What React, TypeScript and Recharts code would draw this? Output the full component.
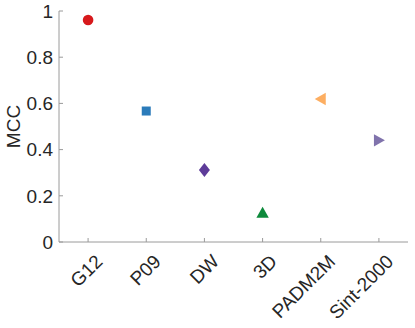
import * as React from "react";
import { ScatterChart, Scatter, XAxis, YAxis } from "recharts";

const models = ["G12", "P09", "DW", "3D", "PADM2M", "Sint-2000"];
const mccValues = [0.961, 0.567, 0.312, 0.127, 0.619, 0.44];
const markerShapes = ["circle", "square", "diamond", "triangle", "left", "right"];
const markerColors = ["#d7191c", "#2b7bba", "#5e3c99", "#0e8a3c", "#fdae61", "#8073ac"];
const yTicks = [0, 0.2, 0.4, 0.6, 0.8, 1];

const data = models.map((name, i) => ({
  name,
  mcc: mccValues[i],
  shape: markerShapes[i],
  color: markerColors[i],
}));

const axisColor = "#9a9a9a";
const textColor = "#262626";
const font = "'Liberation Sans', Arial, Helvetica, sans-serif";
const fontSize = 19;

function Marker(props: any) {
  const { cx, cy, payload } = props;
  const c = payload.color;
  switch (payload.shape) {
    case "circle":
      return <circle cx={cx} cy={cy} r={5.3} fill={c} />;
    case "square":
      return <rect x={cx - 4.5} y={cy - 4.5} width={9} height={9} fill={c} />;
    case "diamond":
      return <polygon points={`${cx},${cy - 7} ${cx + 5.5},${cy} ${cx},${cy + 7} ${cx - 5.5},${cy}`} fill={c} />;
    case "triangle":
      return <polygon points={`${cx},${cy - 6} ${cx + 6.2},${cy + 5} ${cx - 6.2},${cy + 5}`} fill={c} />;
    case "left":
      return <polygon points={`${cx - 6},${cy} ${cx + 5},${cy - 6.2} ${cx + 5},${cy + 6.2}`} fill={c} />;
    case "right":
      return <polygon points={`${cx + 6},${cy} ${cx - 5},${cy - 6.2} ${cx - 5},${cy + 6.2}`} fill={c} />;
    default:
      return null;
  }
}

function XTick(props: any) {
  const { x, y, payload } = props;
  return (
    <g>
      <line x1={x} y1={y} x2={x} y2={y - 4} stroke={axisColor} />
      <text
        transform={`translate(${x + 6},${y + 11}) rotate(-45)`}
        textAnchor="end"
        dy="0.72em"
        fontSize={fontSize}
        fontFamily={font}
        fill={textColor}
      >
        {payload.value}
      </text>
    </g>
  );
}

function YTick(props: any) {
  const { x, y, payload } = props;
  return (
    <g>
      <line x1={x} y1={y} x2={x + 4} y2={y} stroke={axisColor} />
      <text x={x - 6} y={y} dy="0.36em" textAnchor="end" fontSize={fontSize} fontFamily={font} fill={textColor}>
        {payload.value}
      </text>
    </g>
  );
}

function YLabel(props: any) {
  const { viewBox } = props;
  const cy = viewBox.y + viewBox.height / 2;
  return (
    <text
      transform={`translate(13,${cy}) rotate(-90)`}
      textAnchor="middle"
      dy="0.36em"
      fontSize={fontSize}
      fontFamily={font}
      fill={textColor}
    >
      MCC
    </text>
  );
}

export default function App() {
  return (
    <div style={{ position: "fixed", left: 0, top: 0, width: 415, height: 328, background: "#fff" }}>
      <ScatterChart width={415} height={328} margin={{ top: 11, right: 7, bottom: 0, left: 0 }}>
        <XAxis
          type="category"
          dataKey="name"
          allowDuplicatedCategory={false}
          height={86}
          tickSize={0}
          tickMargin={0}
          tick={<XTick />}
          stroke={axisColor}
          interval={0}
        />
        <YAxis
          type="number"
          dataKey="mcc"
          domain={[0, 1]}
          ticks={yTicks}
          width={59}
          tickSize={0}
          tickMargin={0}
          tick={<YTick />}
          stroke={axisColor}
          label={<YLabel />}
        />
        <Scatter data={data} shape={<Marker />} isAnimationActive={false} />
      </ScatterChart>
    </div>
  );
}
